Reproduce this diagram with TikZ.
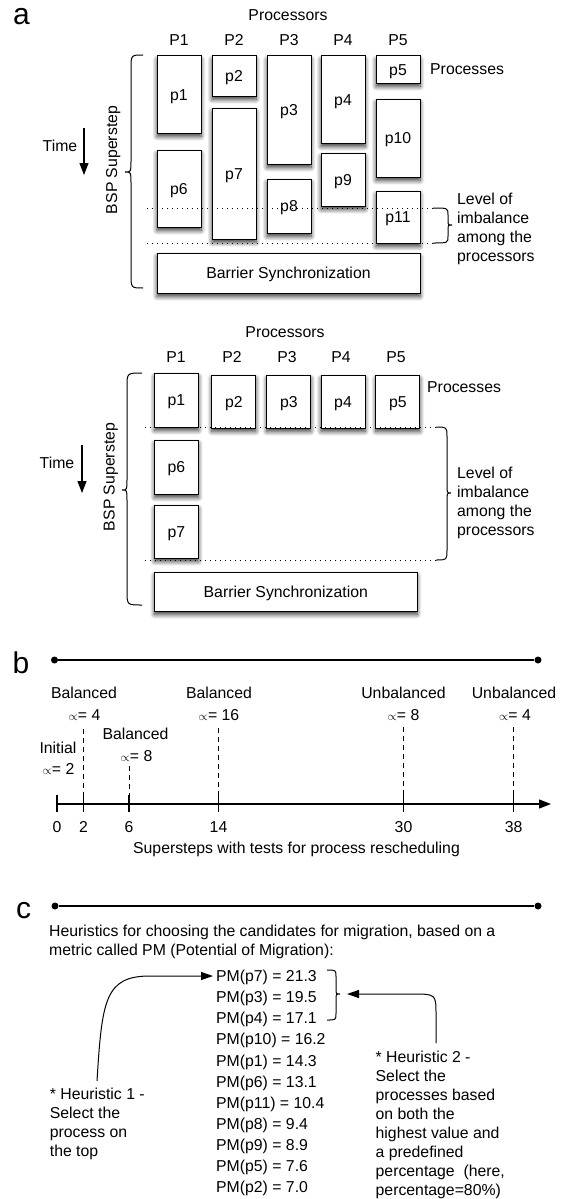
\documentclass[tikz,border=0pt]{standalone}
\usepackage{fontspec}
\setmainfont{Liberation Sans}
\usetikzlibrary{arrows.meta,shadows.blur,calc}

% vertical curly brace: end x, body x, tip x, top y, tip y, bottom y, hook size
\newcommand\curlybrace[7]{%
  \draw[bracestyle] (#1,#4) .. controls (#2,#4) .. (#2,{#4+#7})
    -- (#2,{#5-0.75*#7}) .. controls (#2,#5) .. (#3,#5)
    .. controls (#2,#5) .. (#2,{#5+0.75*#7})
    -- (#2,{#6-#7}) .. controls (#2,#6) .. (#1,#6);}
% small proportionality sign used in the alpha labels
\newcommand\alphaprop{{\fontsize{12}{12}\selectfont$\propto$}}

\begin{document}
\begin{tikzpicture}[x=1pt, y=-1pt,
  every node/.style={font=\fontsize{15.8}{18.9}\selectfont},
  txt/.style={inner sep=0pt, text height=11.3pt, text depth=0pt},
  proc/.style={draw, line width=1pt, fill=white, minimum width=44pt, inner sep=0pt,
    text height=11.3pt, text depth=0pt,
    blur shadow={shadow xshift=0pt, shadow yshift=-3.5pt, shadow blur radius=4.5pt,
      shadow blur steps=8, shadow opacity=80}},
  para/.style={inner sep=0pt, align=left, anchor=north west},
  panel/.style={inner sep=0pt, anchor=base west, font=\fontsize{30}{30}\selectfont},
  imbalanceline/.style={line width=1pt, dash pattern=on 1.3pt off 3.7pt},
  bracestyle/.style={line width=1pt},
  timearrow/.style={line width=1.2pt, -{Triangle[length=12pt,width=9pt]}},
  guideline/.style={line width=1pt, dash pattern=on 5pt off 4pt},
  tickmark/.style={line width=1.2pt},
  sectionrule/.style={line width=1.3pt},
  enddot/.style={circle, fill, inner sep=0pt, minimum size=7pt},
  arr/.style={line width=1pt, -{Triangle[length=12pt,width=8pt]}}
]
\path[use as bounding box] (0,0) rectangle (570,1199);

% ---------------- panel a, upper schedule ----------------
\node[panel] (la) at (13,25) {a};
\node[txt] (procA) at (288,15) {Processors};
\foreach \i/\x in {1/179,2/234,3/289,4/343,5/398}
  \node[txt] (PA\i) at (\x,40) {P\i};

\node[proc, minimum height=77pt]  (a1)  at (179,94.5)  {p1};
\node[proc, minimum height=40pt]  (a2)  at (234,76)    {p2};
\node[proc, minimum height=108pt] (a3)  at (289,110)   {p3};
\node[proc, minimum height=87pt]  (a4)  at (343,99.5)  {p4};
\node[proc, minimum height=27pt]  (a5)  at (398,69.5)  {p5};
\node[proc, minimum height=77pt]  (a6)  at (179,188.5) {p6};
\node[proc, minimum height=131pt] (a7)  at (234,173.5) {p7};
\node[proc, minimum height=54pt]  (a8)  at (289,206)   {p8};
\node[proc, minimum height=53pt]  (a9)  at (343,179.5) {p9};
\node[proc, minimum height=78pt]  (a10) at (398,138)   {p10};
\node[proc, minimum height=52pt]  (a11) at (398,217)   {p11};
\node[proc, minimum width=263pt, minimum height=40pt] (barA) at (288.5,273) {Barrier Synchronization};

\draw[imbalanceline] (147,208) -- (433,208);
\draw[imbalanceline] (147,243) -- (433,243);
\curlybrace{433}{448}{452}{208}{225}{243}{7}
\curlybrace{143}{131}{125}{55}{172}{288}{14}

\node[txt, anchor=west] (procsA) at (430,69) {Processes};
\node[para] (levA) at (457,192.9) {Level of\\imbalance\\among the\\processors};
\node[txt, rotate=90] (bspA) at (111.5,160) {BSP Superstep};
\node[txt] (timeA) at (60,146) {Time};
\coordinate (tA0) at (84,128);
\coordinate (tA1) at (84,175);
\draw[timearrow] (tA0) -- (tA1);

% ---------------- panel a, lower schedule ----------------
\node[txt] (procB) at (285,332) {Processors};
\foreach \i/\x in {1/176,2/232,3/287,4/341,5/396}
  \node[txt] (PB\i) at (\x,357) {P\i};

\node[proc, minimum height=54pt] (b1) at (176.5,400)   {p1};
\node[proc, minimum height=53pt] (b2) at (233.8,401.5) {p2};
\node[proc, minimum height=53pt] (b3) at (288.8,401.5) {p3};
\node[proc, minimum height=53pt] (b4) at (343,401.5)   {p4};
\node[proc, minimum height=53pt] (b5) at (397.8,401.5) {p5};
\node[proc, minimum height=54pt] (b6) at (176.5,467)   {p6};
\node[proc, minimum height=53pt] (b7) at (176.5,531.5) {p7};
\node[proc, minimum width=262.5pt, minimum height=39pt] (barB) at (285.8,591.5) {Barrier Synchronization};

\draw[imbalanceline] (145,427) -- (436,427);
\draw[imbalanceline] (145,560) -- (436,560);
\curlybrace{436}{447}{451}{427}{493}{560}{10}
\curlybrace{142}{127}{122}{373}{490}{605}{14}

\node[txt, anchor=west] (procsB) at (427,387) {Processes};
\node[para] (levB) at (457,467.2) {Level of\\imbalance\\among the\\processors};
\node[txt, rotate=90] (bspB) at (109,477) {BSP Superstep};
\node[txt] (timeB) at (57,463) {Time};
\coordinate (tB0) at (82,445);
\coordinate (tB1) at (82,493);
\draw[timearrow] (tB0) -- (tB1);

% ---------------- panel b, test supersteps ----------------
\node[panel] (lb) at (12.5,673) {b};
\node[enddot] (rb0) at (54.5,660) {};
\node[enddot] (rb1) at (538,660) {};
\draw[sectionrule] (rb0) -- (rb1);

\coordinate (ax0) at (57,804);
\coordinate (ax1) at (551,804);
\draw[sectionrule, -{Triangle[length=12pt,width=9pt]}] (ax0) -- (ax1);

\foreach \v/\x in {0/57,2/83.5,6/129,14/218.5,30/403.5,38/513.6} {
  \draw[tickmark] (\x,795) -- (\x,812);
  \node[txt] (tl\v) at (\x,827) {\v};
}
\foreach \x/\top in {83.5/729,129/766,218.5/728,403.5/727,513.6/727}
  \draw[guideline] (\x,\top) -- (\x,795);

\node[txt] (s2)  at (84,693)    {Balanced};
\node[txt] (a2v) at (84.5,714.5) {\alphaprop= 4};
\node[txt] (s0)  at (58,748)    {Initial};
\node[txt] (a0v) at (58.5,769)  {\alphaprop= 2};
\node[txt] (s6)  at (135.5,734) {Balanced};
\node[txt] (a6v) at (136.5,756) {\alphaprop= 8};
\node[txt] (s14) at (219,693)   {Balanced};
\node[txt] (a14v) at (219,714.5) {\alphaprop= 16};
\node[txt] (s30) at (403.5,693) {Unbalanced};
\node[txt] (a30v) at (403.5,714.5) {\alphaprop= 8};
\node[txt] (s38) at (514,693)   {Unbalanced};
\node[txt] (a38v) at (515,714.5) {\alphaprop= 4};

\node[txt] (axcap) at (296.5,848) {Supersteps with tests for process rescheduling};

% ---------------- panel c, migration heuristics ----------------
\node[panel] (lc) at (16,918) {c};
\node[enddot] (rc0) at (55,906) {};
\node[enddot] (rc1) at (538,906) {};
\draw[sectionrule] (rc0) -- (rc1);

\node[para] (intro) at (49,925.2) {Heuristics for choosing the candidates for migration, based on a\\metric called PM (Potential of Migration):};

\foreach \t [count=\i] in {PM(p7) = 21.3, PM(p3) = 19.5, PM(p4) = 17.1, PM(p10) = 16.2,
    PM(p1) = 14.3, PM(p6) = 13.1, PM(p11) = 10.4, PM(p8) = 9.4, PM(p9) = 8.9,
    PM(p5) = 7.6, PM(p2) = 7.0}
  \node[txt, anchor=west] (pm\i) at (216,{976+21.1*(\i-1)}) {\t};

\curlybrace{327}{336}{340}{970}{994}{1020}{7}

\node[para] (h1) at (49.7,1088.2) {* Heuristic 1 -\\Select the\\process on\\the top};
\node[para] (h2) at (375.5,1051.2) {* Heuristic 2 -\\Select the\\processes based\\on both the\\highest value and\\a predefined\\percentage~ (here,\\percentage=80\%)};

\coordinate (h1s) at (97,1081);
\draw[arr] (h1s) .. controls (102,1000) and (105,976) .. (150,976) -- ([xshift=-3pt]pm1.west);
\coordinate (h2s) at (436,1043);
\coordinate (h2e) at (347,994);
\draw[arr] (h2s) -- (436,1015) .. controls (436,994) .. (412,994) -- (h2e);
\end{tikzpicture}
\end{document}
